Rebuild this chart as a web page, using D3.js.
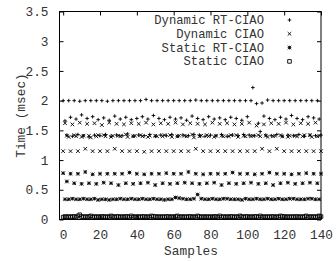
<!DOCTYPE html>
<html><head><meta charset="utf-8">
<script src="https://cdn.jsdelivr.net/npm/d3@7"></script>
<style>body{margin:0;background:#fff}svg{display:block}text{font-family:"Liberation Mono","DejaVu Sans Mono",monospace;font-size:12.8px;fill:#333}text.leg{font-size:12.2px}</style>
</head><body><svg id="c" width="336" height="261"></svg>
<script>
const seriesNames = ["Dynamic RT-CIAO","Dynamic CIAO","Static RT-CIAO","Static CIAO"];
const markerTypes = ["plus","cross","star","square"];
const xTicks = [0,20,40,60,80,100,120,140];
const yTicks = [0,0.5,1,1.5,2,2.5,3,3.5];
const yTickLabels = ["0","0.5","1","1.5","2","2.5","3","3.5"];

const dynamicRT = [
2.00,1.66,1.42, 2.00,1.72,1.40, 2.00,1.69,1.43, 1.99,1.76,1.41, 2.00,1.70,1.39,
2.00,1.73,1.42, 2.00,1.68,1.41, 2.00,1.71,1.43, 1.99,1.67,1.40, 2.00,1.74,1.42,
2.00,1.69,1.41, 2.00,1.72,1.44, 2.00,1.68,1.40, 2.00,1.70,1.42, 2.00,1.73,1.41,
2.02,1.69,1.43, 2.00,1.75,1.40, 2.00,1.70,1.42, 2.00,1.68,1.41, 2.00,1.72,1.43,
2.00,1.69,1.40, 2.00,1.71,1.42, 2.00,1.67,1.41, 2.00,1.74,1.43, 2.01,1.70,1.42,
2.00,1.68,1.40, 2.00,1.73,1.42, 2.00,1.69,1.41, 2.00,1.71,1.43, 2.00,1.68,1.40,
2.00,1.72,1.42, 2.00,1.70,1.41, 2.00,1.67,1.43, 2.00,1.73,1.42, 2.00,2.22,1.41,
1.95,1.62,1.48, 1.96,1.74,1.42, 2.01,1.70,1.41, 2.00,1.68,1.43, 2.00,1.72,1.40,
2.00,1.69,1.42, 2.00,1.75,1.41, 2.00,1.70,1.43, 2.00,1.68,1.40, 2.00,1.73,1.42,
2.00,1.71,1.41, 2.00,1.69,1.42];

const dynamicCIAO = [
1.15,1.62,1.41,1.39, 1.15,1.60,1.42,1.40, 1.15,1.63,1.39,1.41, 1.19,1.61,1.41,1.38,
1.15,1.62,1.40,1.42, 1.15,1.59,1.42,1.40, 1.15,1.63,1.39,1.41, 1.19,1.61,1.41,1.40,
1.15,1.60,1.43,1.39, 1.15,1.62,1.40,1.41, 1.15,1.61,1.42,1.40, 1.14,1.63,1.39,1.41,
1.15,1.60,1.41,1.40, 1.15,1.62,1.40,1.42, 1.15,1.61,1.42,1.39, 1.15,1.63,1.40,1.41,
1.15,1.60,1.41,1.40, 1.15,1.62,1.43,1.38, 1.19,1.61,1.40,1.41, 1.15,1.60,1.42,1.40,
1.15,1.63,1.39,1.41, 1.15,1.61,1.41,1.40, 1.15,1.62,1.40,1.42, 1.15,1.60,1.42,1.39,
1.15,1.61,1.41,1.40, 1.15,1.63,1.40,1.41, 1.15,1.58,1.42,1.40, 1.19,1.60,1.41,1.39,
1.15,1.62,1.40,1.41, 1.19,1.61,1.42,1.40, 1.15,1.63,1.39,1.41, 1.15,1.60,1.41,1.40,
1.15,1.62,1.40,1.42, 1.15,1.61,1.42,1.39, 1.15,1.63,1.40,1.41, 1.15];

const staticRT = [
0.78,0.34,0.64,0.34, 0.77,0.35,0.61,0.34, 0.77,0.34,0.60,0.35, 0.80,0.34,0.61,0.34,
0.76,0.35,0.60,0.33, 0.77,0.34,0.62,0.34, 0.77,0.33,0.61,0.34, 0.77,0.34,0.58,0.35,
0.77,0.34,0.61,0.34, 0.79,0.35,0.60,0.34, 0.77,0.34,0.61,0.35, 0.76,0.34,0.62,0.34,
0.77,0.35,0.58,0.34, 0.77,0.34,0.61,0.33, 0.78,0.34,0.60,0.34, 0.77,0.37,0.61,0.36,
0.77,0.35,0.62,0.34, 0.80,0.34,0.61,0.35, 0.77,0.42,0.60,0.35, 0.76,0.34,0.61,0.34,
0.77,0.35,0.62,0.34, 0.77,0.34,0.58,0.35, 0.77,0.35,0.61,0.34, 0.79,0.34,0.60,0.34,
0.77,0.33,0.61,0.35, 0.77,0.34,0.62,0.34, 0.76,0.35,0.60,0.34, 0.77,0.34,0.61,0.35,
0.79,0.34,0.58,0.34, 0.77,0.35,0.61,0.34, 0.77,0.34,0.62,0.35, 0.76,0.35,0.60,0.34,
0.77,0.34,0.61,0.34, 0.78,0.35,0.62,0.35, 0.77,0.34,0.61,0.34, 0.77];

const staticCIAO = [
0.04,0.05,0.04,0.05,0.04,0.05,0.05,0.04,0.06,0.08,
0.05,0.04,0.05,0.04,0.05,0.06,0.04,0.05,0.04,0.05,
0.04,0.05,0.05,0.04,0.05,0.04,0.06,0.05,0.04,0.05,
0.05,0.04,0.05,0.04,0.05,0.05,0.04,0.06,0.04,0.05,
0.04,0.05,0.04,0.05,0.05,0.04,0.05,0.04,0.06,0.05,
0.05,0.04,0.05,0.04,0.05,0.04,0.05,0.05,0.04,0.05,
0.04,0.05,0.06,0.04,0.05,0.04,0.05,0.04,0.05,0.05,
0.04,0.05,0.04,0.06,0.05,0.04,0.05,0.04,0.05,0.04,
0.05,0.04,0.05,0.05,0.04,0.06,0.04,0.05,0.04,0.05,
0.04,0.05,0.05,0.04,0.05,0.04,0.06,0.05,0.04,0.05,
0.05,0.04,0.05,0.04,0.05,0.05,0.04,0.06,0.04,0.05,
0.04,0.05,0.04,0.05,0.05,0.04,0.05,0.04,0.06,0.05,
0.05,0.04,0.05,0.04,0.05,0.04,0.05,0.05,0.04,0.05,
0.04,0.05,0.06,0.04,0.05,0.04,0.05,0.04,0.05,0.06,
0.05];

const allSeries = [dynamicRT, dynamicCIAO, staticRT, staticCIAO];

const svg = d3.select("#c");
const L = 59.5, R = 321, T = 11.5, B = 219.5;
const x = d3.scaleLinear().domain([-2,140]).range([L,R]);
const y = d3.scaleLinear().domain([0,3.5]).range([B,T]);
const TL = 4;

function marker(g, type, cx, cy) {
  const s = 1.8;
  let d;
  if (type === "plus") d = `M${cx-s},${cy}H${cx+s}M${cx},${cy-s}V${cy+s}`;
  else if (type === "cross") d = `M${cx-s},${cy-s}L${cx+s},${cy+s}M${cx-s},${cy+s}L${cx+s},${cy-s}`;
  else if (type === "star") d = `M${cx-s},${cy}H${cx+s}M${cx},${cy-s}V${cy+s}M${cx-s},${cy-s}L${cx+s},${cy+s}M${cx-s},${cy+s}L${cx+s},${cy-s}`;
  else d = `M${cx-s},${cy-s}H${cx+s}V${cy+s}H${cx-s}Z`;
  g.append("path").attr("d", d).attr("fill","none").attr("stroke","#000").attr("stroke-width",0.9);
}

const xAxisB = d3.axisBottom(x).tickValues(xTicks).tickSize(-TL).tickFormat(d3.format("d")).tickPadding(10);
const xAxisT = d3.axisTop(x).tickValues(xTicks).tickSize(-TL).tickFormat("");
const yAxisL = d3.axisLeft(y).tickValues(yTicks).tickSize(-TL).tickFormat((d,i)=>yTickLabels[i]).tickPadding(11);
const yAxisR = d3.axisRight(y).tickValues(yTicks).tickSize(-TL).tickFormat("");

function styleAxis(g){
  g.attr("font-family",null).attr("font-size",null);
  g.select(".domain").remove();
  g.selectAll("line").attr("stroke","#000");
  g.selectAll("text").attr("fill","#333");
}
svg.append("g").attr("transform",`translate(0,${B})`).call(xAxisB).call(styleAxis);
svg.append("g").attr("transform",`translate(0,${T})`).call(xAxisT).call(styleAxis);
svg.append("g").attr("transform",`translate(${L},0)`).call(yAxisL).call(styleAxis);
svg.append("g").attr("transform",`translate(${R},0)`).call(yAxisR).call(styleAxis);

allSeries.forEach((vals, si) => {
  const g = svg.append("g");
  vals.forEach((v, i) => marker(g, markerTypes[si], x(i), y(v)));
});

svg.append("rect").attr("x",L).attr("y",T).attr("width",R-L).attr("height",B-T)
  .attr("fill","none").attr("stroke","#000").attr("stroke-width",1);

const lg = svg.append("g");
seriesNames.forEach((n,i) => {
  const ly = 20 + 13.8*i;
  lg.append("text").attr("class","leg").attr("x",264).attr("y",ly+4).attr("text-anchor","end").text(n);
  marker(lg, markerTypes[i], 289.5, ly);
});

svg.append("text").attr("x",191).attr("y",255).attr("text-anchor","middle").text("Samples");
svg.append("text").attr("transform",`translate(25,${(T+B)/2}) rotate(-90)`).attr("text-anchor","middle").text("Time (msec)");
</script></body></html>
